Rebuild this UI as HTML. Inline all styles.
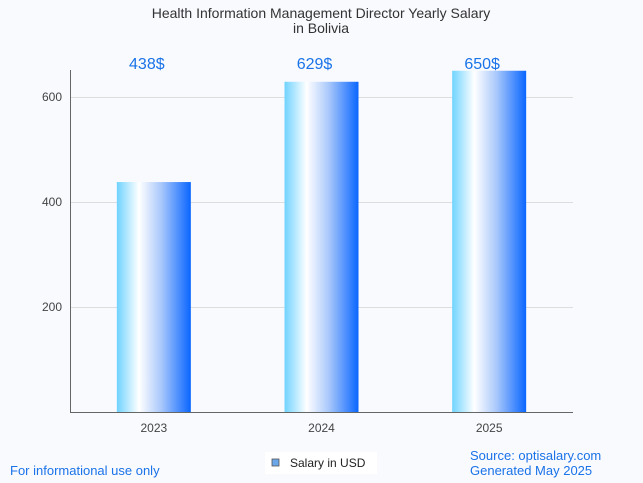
<!DOCTYPE html>
<html><head><meta charset="utf-8"><style>
body{margin:0;background:#f9fafe;}
svg{display:block;font-family:"Liberation Sans",sans-serif;}
</style></head><body>
<svg id="c" width="643" height="483" viewBox="0 0 643 483">
<defs><linearGradient id="g" x1="0" x2="1" y1="0" y2="0">
<stop offset="0" stop-color="#6fd3ff"/><stop offset="0.3" stop-color="#ffffff"/><stop offset="0.6" stop-color="#a9c8fb"/><stop offset="1" stop-color="#0a66ff"/></linearGradient></defs>
<text x="321" y="18" text-anchor="middle" font-size="14" fill="#333">Health Information Management Director Yearly Salary</text>
<text x="321" y="33" text-anchor="middle" font-size="14" fill="#333">in Bolivia</text>
<g id="grid"></g><g id="bars"></g>
<line x1="70.5" y1="70" x2="70.5" y2="413" stroke="#666"/>
<line x1="70" y1="412.5" x2="573" y2="412.5" stroke="#666"/>
<text x="10" y="475" font-size="13" fill="#1a73e8">For informational use only</text>
<rect x="265" y="452" width="112" height="22" fill="#fff"/>
<rect x="272" y="459" width="7" height="7" fill="#6aa6e8" stroke="#555" stroke-width="0.8"/>
<text x="290" y="467" font-size="12" fill="#222">Salary in USD</text>
<text x="470" y="460" font-size="13" fill="#1a73e8">Source: optisalary.com</text>
<text x="470" y="475" font-size="13" fill="#1a73e8">Generated May 2025</text>
</svg>
<script>
const categories=["2023","2024","2025"];
const values=[438,629,650];
const labels=["438$","629$","650$"];
const yTicks=[200,400,600];
const NS="http://www.w3.org/2000/svg";
const x0=70,x1=573,y0=412,k=0.525;
const band=(x1-x0)/categories.length;
const xc=i=>x0+band*(i+0.5);
const ys=v=>y0-v*k;
function mk(t,a,p){const e=document.createElementNS(NS,t);for(const n in a)e.setAttribute(n,a[n]);p.appendChild(e);return e;}
const grid=document.getElementById('grid'),bars=document.getElementById('bars');
yTicks.forEach(v=>{
 const l=mk('line',{x1:x0,x2:x1,y1:ys(v)+0.5,y2:ys(v)+0.5,stroke:'#ddd'},grid);
 
 
 const t=mk('text',{x:62,y:ys(v)+4,'text-anchor':'end','font-size':12,fill:'#444'},grid);
 t.textContent=v;
 
 
});
categories.forEach((c,i)=>{
 const r=mk('rect',{x:xc(i)-37,y:ys(values[i]),width:74,height:y0-ys(values[i]),fill:'url(#g)'},bars);
 
 
 const t=mk('text',{x:xc(i)-7,y:69,'text-anchor':'middle','font-size':16,fill:'#1a73e8'},bars);
 t.textContent=labels[i];
 
 
 const xl=mk('text',{x:xc(i),y:432,'text-anchor':'middle','font-size':12,fill:'#444'},bars);
 xl.textContent=c;
 
 
});
</script>
</body></html>
